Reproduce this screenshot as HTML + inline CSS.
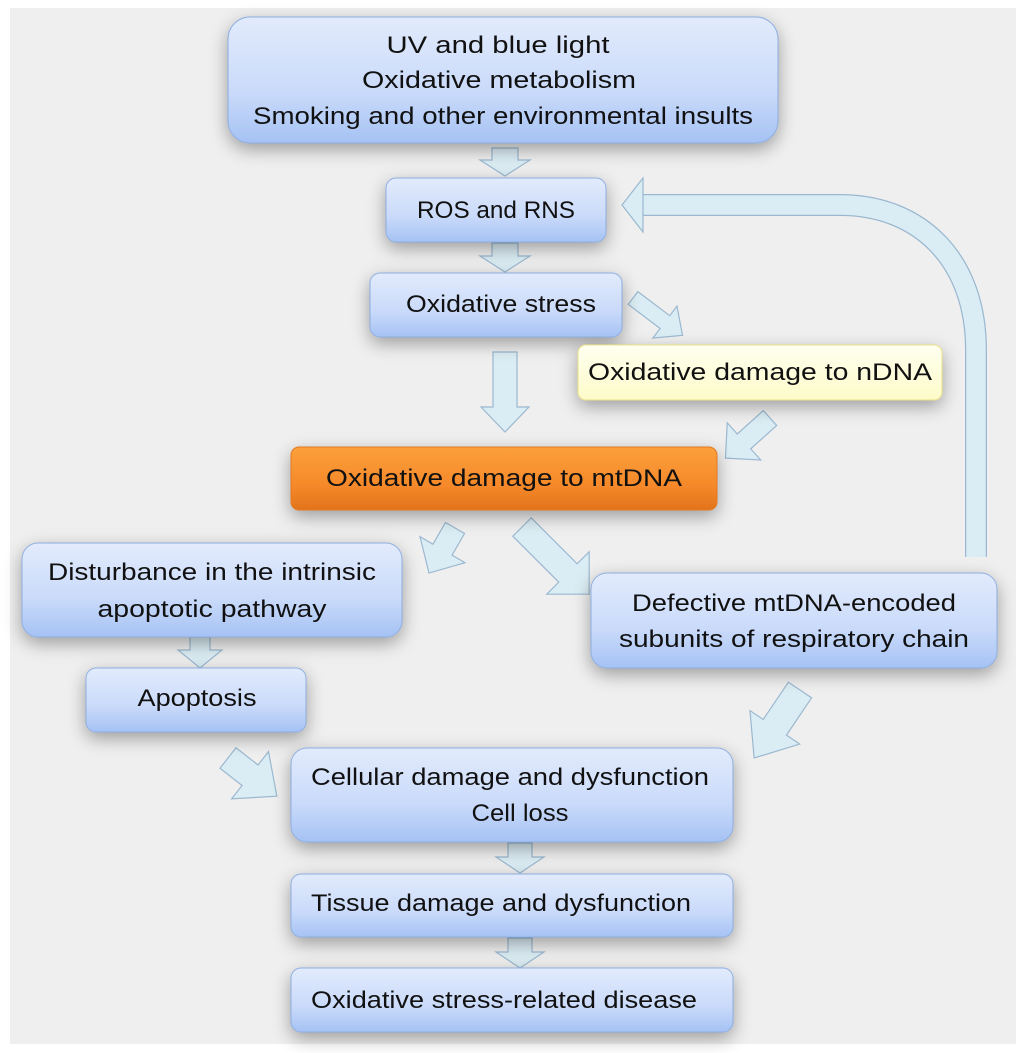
<!DOCTYPE html>
<html><head><meta charset="utf-8"><style>
html,body{margin:0;padding:0;background:#fff;}
svg{display:block;}
text{font-family:"Liberation Sans",sans-serif;fill:#111;}
</style></head><body>
<svg width="1024" height="1053" viewBox="0 0 1024 1053" xmlns="http://www.w3.org/2000/svg">
<defs>
<linearGradient id="bl" x1="0" y1="0" x2="0" y2="1"><stop offset="0" stop-color="#e2ebfc"/><stop offset="0.6" stop-color="#c9dafa"/><stop offset="1" stop-color="#a5c2f4"/></linearGradient>
<linearGradient id="or" x1="0" y1="0" x2="0" y2="1"><stop offset="0" stop-color="#fba03c"/><stop offset="0.6" stop-color="#f6892a"/><stop offset="1" stop-color="#e2731c"/></linearGradient>
<linearGradient id="ye" x1="0" y1="0" x2="0" y2="1"><stop offset="0" stop-color="#fffff0"/><stop offset="1" stop-color="#fdfbc8"/></linearGradient>
<filter id="sh" x="-20%" y="-30%" width="140%" height="170%"><feGaussianBlur in="SourceAlpha" stdDeviation="9"/><feOffset dy="6"/><feComponentTransfer><feFuncA type="linear" slope="0.35"/></feComponentTransfer><feMerge><feMergeNode/><feMergeNode in="SourceGraphic"/></feMerge></filter>
</defs>
<rect x="10" y="8" width="1006" height="1036" fill="#efefef"/>

<g stroke="#9bb8d0" stroke-width="1.2" fill="#dbedf4">
<path d="M976,557 L976,350 C976,260 920,205 840,205 L642,205" fill="none" stroke="#9bb8d0" stroke-width="22"/>
<path d="M976,557 L976,350 C976,260 920,205 840,205 L642,205" fill="none" stroke="#dbedf4" stroke-width="19.5"/>
<polygon points="622,205 643,178 643,232"/>
<polygon points="492,148 518,148 518,160 530,160 505,176 480,160 492,160"/>
<polygon points="492,243 518,243 518,256 530,256 505,272 480,256 492,256"/>
<polygon points="493,352 517,352 517,407 529,407 505,432 481,407 493,407"/>
<polygon points="190,637 210,637 210,650 222,650 200,668 178,650 190,650"/>
<polygon points="508,843 532,843 532,857 544,857 520,873 496,857 508,857"/>
<polygon points="508,938 532,938 532,952 544,952 520,968 496,952 508,952"/>
<g transform="translate(633,298) rotate(37)"><polygon points="0,-8 40,-8 40,-20 62,0 40,20 40,8 0,8"/></g>
<g transform="translate(770,418) rotate(138)"><polygon points="0,-10 35,-10 35,-25 60,0 35,25 35,10 0,10"/></g>
<g transform="translate(455,528) rotate(120)"><polygon points="0,-11 25,-11 25,-26 52,0 25,26 25,11 0,11"/></g>
<g transform="translate(522,527) rotate(45)"><polygon points="0,-13 65,-13 65,-30 95,0 65,30 65,13 0,13"/></g>
<g transform="translate(228,758) rotate(38)"><polygon points="0,-13 28,-13 28,-30 62,0 28,30 28,13 0,13"/></g>
<g transform="translate(800,690) rotate(124)"><polygon points="0,-14 45,-14 45,-30 82,0 45,30 45,14 0,14"/></g>
</g>

<g filter="url(#sh)" stroke="#8eaee0" stroke-width="1">
<rect x="228" y="17" width="550" height="126" rx="22" fill="url(#bl)"/>
<rect x="386" y="178" width="220" height="64" rx="10" fill="url(#bl)"/>
<rect x="370" y="273" width="252" height="64" rx="10" fill="url(#bl)"/>
<rect x="578" y="345" width="364" height="55" rx="8" fill="url(#ye)" stroke="#ece38a"/>
<rect x="291" y="447" width="426" height="63" rx="8" fill="url(#or)" stroke="#e27a22"/>
<rect x="22" y="543" width="380" height="94" rx="16" fill="url(#bl)"/>
<rect x="591" y="573" width="406" height="95" rx="16" fill="url(#bl)"/>
<rect x="86" y="668" width="220" height="64" rx="10" fill="url(#bl)"/>
<rect x="291" y="748" width="442" height="94" rx="16" fill="url(#bl)"/>
<rect x="291" y="874" width="442" height="63" rx="10" fill="url(#bl)"/>
<rect x="291" y="968" width="442" height="64" rx="10" fill="url(#bl)"/>
</g>

<g font-size="24" text-anchor="middle">
<text x="498" y="53" textLength="223" lengthAdjust="spacingAndGlyphs">UV and blue light</text>
<text x="499" y="88" textLength="274" lengthAdjust="spacingAndGlyphs">Oxidative metabolism</text>
<text x="503" y="124" textLength="500" lengthAdjust="spacingAndGlyphs">Smoking and other environmental insults</text>
<text x="496" y="218" textLength="158" lengthAdjust="spacingAndGlyphs">ROS and RNS</text>
<text x="501" y="312" textLength="190" lengthAdjust="spacingAndGlyphs">Oxidative stress</text>
<text x="760" y="380" textLength="344" lengthAdjust="spacingAndGlyphs">Oxidative damage to nDNA</text>
<text x="504" y="486" textLength="356" lengthAdjust="spacingAndGlyphs">Oxidative damage to  mtDNA</text>
<text x="212" y="580" textLength="328" lengthAdjust="spacingAndGlyphs">Disturbance in the intrinsic</text>
<text x="212" y="617" textLength="229" lengthAdjust="spacingAndGlyphs">apoptotic pathway</text>
<text x="794" y="611" textLength="324" lengthAdjust="spacingAndGlyphs">Defective mtDNA-encoded</text>
<text x="794" y="647" textLength="350" lengthAdjust="spacingAndGlyphs">subunits of respiratory chain</text>
<text x="197" y="706" textLength="119" lengthAdjust="spacingAndGlyphs">Apoptosis</text>
<text x="510" y="785" textLength="398" lengthAdjust="spacingAndGlyphs">Cellular damage and dysfunction</text>
<text x="520" y="821" textLength="97" lengthAdjust="spacingAndGlyphs">Cell loss</text>
</g>
<g font-size="24">
<text x="311" y="911" textLength="380" lengthAdjust="spacingAndGlyphs">Tissue damage and dysfunction</text>
<text x="311" y="1008" textLength="386" lengthAdjust="spacingAndGlyphs">Oxidative stress-related disease</text>
</g>
</svg>
</body></html>
